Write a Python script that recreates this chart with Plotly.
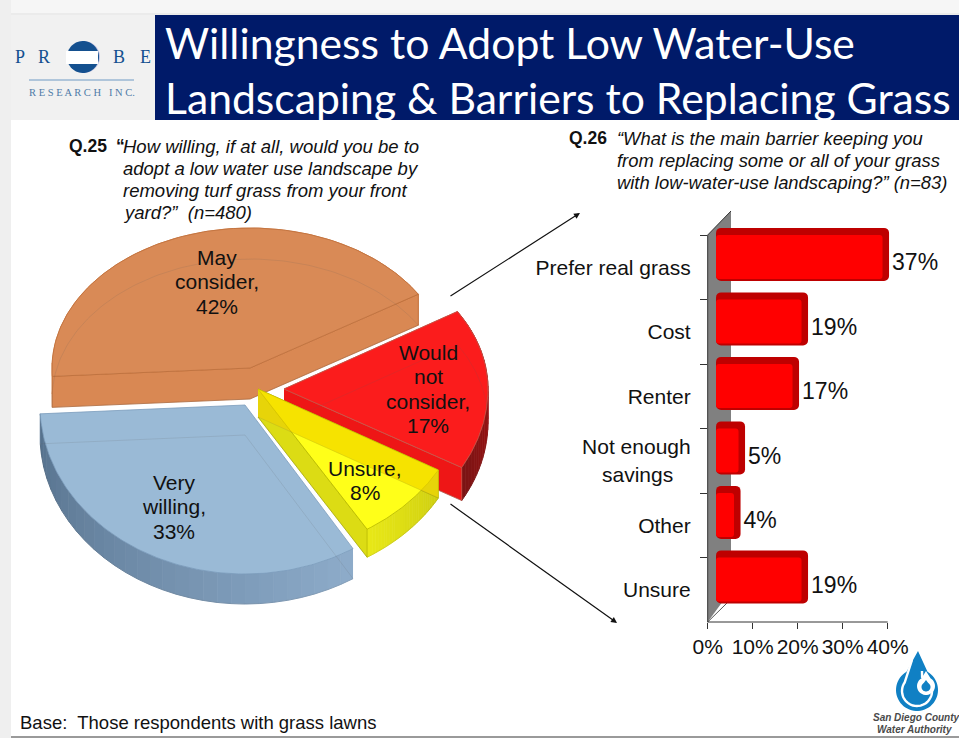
import numpy as np
import plotly.graph_objects as go

# ---- data ----
pie_labels = [["May", "consider,", "42%"], ["Would", "not", "consider,", "17%"],
              ["Unsure,", "8%"], ["Very", "willing,", "33%"]]
pie_shares = [42, 17, 8, 33]
bar_categories = ["Prefer real grass", "Cost", "Renter",
                  "Not enough<br>savings\u00a0\u00a0\u00a0", "Other", "Unsure"]
bar_values = [37, 19, 17, 5, 4, 19]
axis_ticks = [0, 10, 20, 30, 40]
axis_tick_labels = ["0%", "10%", "20%", "30%", "40%"]
title_lines = ["Willingness to Adopt Low Water-Use", "Landscaping & Barriers to Replacing Grass"]
q25_lines = ["How willing, if at all, would you be to", "adopt a low water use landscape by",
             "removing turf grass from your front", "yard?\u201d  (n=480)"]
q26_lines = ["\u201cWhat is the main barrier keeping you", "from replacing some or all of your grass",
             "with low-water-use landscaping?\u201d (n=83)"]

# ---- pie styling / perspective ----
START = 183.0
styles = [
    dict(c=(250, 368), rx=198, up=140, down=160, d=31, top="#D98A56", wall="#D98853", edge="#BE703C", arc=("#D98853", "#D98853")),
    dict(c=(284, 389), rx=204, up=147, down=160, d=33, top="#FB1C1C", wall="#EE1616", edge="#C4584A", arc=("#C01010", "#7A1414")),
    dict(c=(258, 389), rx=207, up=140, down=165, d=28, top="rgba(255,255,0,0.90)", wall="#DCDC14", edge="#B9B900", arc=("#CFCF10", "#E9E918")),
    dict(c=(245, 405), rx=205, up=140, down=169, d=30, top="#9ABAD6", wall="#8FAECD", edge="#7C9DBD", arc=("#8EADCB", "#55708C")),
]
FONT = "Liberation Sans"


def hex_rgb(h):
    return tuple(int(h[i:i + 2], 16) for i in (1, 3, 5))


fig = go.Figure()


def poly(xs, ys, fill, line=None, width=0.8):
    fig.add_trace(go.Scatter(x=list(xs), y=list(ys), mode="lines", fill="toself", fillcolor=fill,
                             line=dict(color=line or "rgba(0,0,0,0)", width=width if line else 0),
                             hoverinfo="skip", showlegend=False, xaxis="x", yaxis="y"))


def arc_points(s, t):
    t = np.radians(t)
    sn = np.sin(t)
    ry = np.where(sn > 0, s["up"], s["down"])
    return s["c"][0] + s["rx"] * np.cos(t), s["c"][1] - ry * sn


spans, a = [], START
for v in pie_shares:
    spans.append((a, a - v / sum(pie_shares) * 360))
    a = spans[-1][1]

for i in (0, 3, 1, 2):
    s, (a0, a1) = styles[i], spans[i]
    cx, cy = s["c"]
    d = s["d"]
    ts = np.linspace(a0, a1, 121)
    ax, ay = arc_points(s, ts)
    # outer wall, split in strips for the shading
    n = 30
    c0, c1 = hex_rgb(s["arc"][0]), hex_rgb(s["arc"][1])
    idx = np.linspace(0, len(ts) - 1, n + 1).astype(int)
    for k in range(n):
        sx, sy = ax[idx[k]:idx[k + 1] + 1], ay[idx[k]:idx[k + 1] + 1]
        f = (k + .5) / n
        col = "rgb(%d,%d,%d)" % tuple(int(c0[j] + (c1[j] - c0[j]) * f) for j in range(3))
        poly(np.r_[sx, sx[::-1]], np.r_[sy, sy[::-1] + d], col, col, 1)
    # cut walls (the blue slice shows none of them)
    if i != 3:
        poly([cx, ax[0], ax[0], cx], [cy, ay[0], ay[0] + d, cy + d], s["wall"], s["edge"])
        poly([cx, ax[-1], ax[-1], cx], [cy, ay[-1], ay[-1] + d, cy + d], s["wall"], s["edge"])
    # top face
    poly(np.r_[cx, ax, cx], np.r_[cy, ay, cy], s["top"], s["edge"])
    if i == 2:   # darker band where the yellow slice lies over the red one
        poly([cx, ax[0], ax[0], cx], [cy, ay[0], ay[0] + d, cy + d], "rgba(240,205,0,0.55)")
    # see-through bottom outline
    fig.add_trace(go.Scatter(x=np.r_[cx, ax, cx], y=np.r_[cy, ay, cy] + d, mode="lines",
                             line=dict(color="rgba(90,90,90,0.14)", width=1),
                             hoverinfo="skip", showlegend=False, xaxis="x", yaxis="y"))

# ---- bars ----
DX = 1.85    # front-face shift caused by the 3-D wall
fig.add_trace(go.Bar(y=bar_categories, x=[v + 1.45 for v in bar_values], base=DX, orientation="h",
                     width=53 / 64.5, offset=-0.61, marker=dict(color="#BE0000", cornerradius=5, line_width=0),
                     cliponaxis=False, hoverinfo="skip", showlegend=False, xaxis="x2", yaxis="y2"))
fig.add_trace(go.Bar(y=bar_categories, x=bar_values, base=DX, orientation="h",
                     width=44 / 64.5, offset=-0.5, marker=dict(color="#FF0000", cornerradius=3, line_width=0),
                     cliponaxis=False, hoverinfo="skip", showlegend=False, xaxis="x2", yaxis="y2"))
fig.add_trace(go.Bar(y=bar_categories, x=[v + 1.45 for v in bar_values], base=DX, orientation="h",
                     width=1, offset=-0.58, marker=dict(color="rgba(0,0,0,0)", line_width=0),
                     text=[f"{v}%" for v in bar_values], textposition="outside",
                     textfont=dict(family=FONT, size=23, color="#111"),
                     cliponaxis=False, hoverinfo="skip", showlegend=False, xaxis="x2", yaxis="y2"))

# ---- shapes ----
shapes = []


def rect(x0, y0, x1, y1, fill):
    shapes.append(dict(type="rect", xref="x", yref="y", x0=x0, y0=y0, x1=x1, y1=y1,
                       fillcolor=fill, line_width=0, layer="below"))


def path(xs, ys, fill, line=None, width=0):
    p = "M" + "L".join(f"{a:.2f},{b:.2f}" for a, b in zip(xs, ys)) + "Z"
    shapes.append(dict(type="path", xref="x", yref="y", path=p, fillcolor=fill, layer="below",
                       line=dict(color=line or "rgba(0,0,0,0)", width=width)))


def seg(x0, y0, x1, y1, color, width=1):
    shapes.append(dict(type="line", xref="x", yref="y", x0=x0, y0=y0, x1=x1, y1=y1,
                       line=dict(color=color, width=width), layer="below"))


rect(0, 0, 959, 15, "#F6F6F6")
rect(0, 0, 11, 738, "#EFEFEF")
rect(11, 13, 959, 15, "#EBEBEB")
rect(11, 15, 155, 120, "#F1F1F1")
rect(155, 15, 959, 120, "#001A69")
seg(11, 737, 959, 737, "#9A9A9A", 2)

# 3-D wall of the bar chart
path([707.7, 731, 731, 707.7], [235, 211, 590, 622], "#808080")
seg(707.7, 235, 731, 211, "#333333", 1)
seg(707.7, 622, 727, 603, "#555555", 1)
seg(707.7, 622, 887.7, 622, "#333333", 1)   # value-axis line stops at 40 %
seg(707.7, 235, 707.7, 622, "#333333", 1)   # category-axis line stops at the top tick

# Probe logo
tt = np.radians(np.linspace(0, 360, 60))
lcx, lcy, lr = 83, 57, 16
path(lcx + 1 + lr * np.cos(tt), lcy + lr * np.sin(tt), "#C9C7E4")
path(lcx + lr * np.cos(tt), lcy + lr * np.sin(tt), "#14508F")
rect(lcx - lr - 1, 51, lcx + lr - 1, 64, "#FFFFFF")
seg(29, 80, 134, 80, "#6E9AC4", 1)

# Water-authority drop
dt = np.radians(np.linspace(-60, 240, 50))
dcx, dcy = 917, 690
path(np.r_[918, dcx + 21 * np.cos(dt)], np.r_[651, dcy + 21 * np.sin(dt)], "#1080C4")
sw = np.radians(np.linspace(-70, 215, 40))
sx, sy = dcx + 15 * np.cos(sw), dcy + 1 + 15 * np.sin(sw)
shapes.append(dict(type="path", xref="x", yref="y", layer="below", fillcolor="rgba(0,0,0,0)",
                   path="M912,660 L" + "L".join(f"{a:.1f},{b:.1f}" for a, b in zip(sx[::-1], sy[::-1])) + "L922,671",
                   line=dict(color="white", width=2.4)))
ct = np.radians(np.linspace(-60, 240, 30))
path(np.r_[926, 926 + 9 * np.cos(ct)], np.r_[671, 686 + 9 * np.sin(ct)], "#FFFFFF")
path(np.r_[926, 926 + 4.5 * np.cos(ct)], np.r_[680, 687 + 4.5 * np.sin(ct)], "#1080C4")

# ---- text ----
ann = []


def txt(x, y, t, size, color="#111", align="center", fam=FONT):
    ann.append(dict(x=x, y=y, xref="x", yref="y", text=t, showarrow=False, xanchor=align, yanchor="middle",
                    font=dict(family=fam, size=size, color=color)))


txt(163, 42, title_lines[0], 42.7, "#FFFFFF", "left", "Lato")
txt(163, 97, title_lines[1], 42.7, "#FFFFFF", "left", "Lato")

txt(67, 146, "<b>Q.25</b>", 17.5, align="left")
txt(114, 146, "<b>\u201c</b>", 17.5, align="left")
for i, l in enumerate(q25_lines):
    txt(121, 146 + i * 22.3, f"<i>{l}</i>", 18.5, align="left")
txt(567, 138, "<b>Q.26</b>", 17.5, align="left")
for i, l in enumerate(q26_lines):
    txt(615, 138 + i * 22.3, f"<i>{l}</i>", 18.4, align="left")

pie_text_pos = [(217, 257), (428, 352), (365, 468), (174, 482)]
for lines, (x, y) in zip(pie_labels, pie_text_pos):
    for j, l in enumerate(lines):
        txt(x, y + j * 24.5, l, 21)

txt(18, 722, "Base:  Those respondents with grass lawns", 18.5, align="left")

for ch, x in (("P", 20), ("R", 44), ("B", 119), ("E", 145)):
    txt(x, 57, ch, 18, "#14508F", "center", "Liberation Serif")
txt(82, 92, "R E S E A R C H   I N C.", 10.5, "#4F7BA8", "center", "Liberation Serif")
txt(916, 717, "<b><i>San Diego County</i></b>", 10, "#4A4A4A")
txt(914, 729, "<b><i>Water Authority</i></b>", 10, "#4A4A4A")

for (x0, y0, x1, y1) in ((449, 297, 580, 213), (449, 503, 617, 623)):
    ann.append(dict(x=x1, y=y1, ax=x0, ay=y0, xref="x", yref="y", axref="x", ayref="y", text="", showarrow=True,
                    arrowhead=2, arrowsize=1, arrowwidth=1.2, arrowcolor="#111"))

H, W = 738, 959
PX_PER_PCT = 4.5
ROW = 64.5
EXTRA = 0.12   # room above the first row for the top of the 3-D bar
fig.update_layout(
    width=W, height=H, margin=dict(l=0, r=0, t=0, b=0), paper_bgcolor="white", plot_bgcolor="rgba(0,0,0,0)",
    barmode="overlay", showlegend=False, shapes=shapes, annotations=ann,
    xaxis=dict(domain=[0, 1], range=[0, W], visible=False, fixedrange=True, automargin=False),
    yaxis=dict(domain=[0, 1], range=[H, 0], visible=False, fixedrange=True, automargin=False),
    xaxis2=dict(domain=[707.7 / W, (707.7 + 55 * PX_PER_PCT) / W], range=[0, 55], anchor="y2", tickmode="array",
                tickvals=axis_ticks, ticktext=axis_tick_labels, ticks="outside", ticklen=6, tickcolor="#333",
                showgrid=False, zeroline=False, showline=False, automargin=False,
                tickfont=dict(family=FONT, size=21, color="#111")),
    yaxis2=dict(domain=[1 - 622 / H, 1 - (235 - EXTRA * ROW) / H], anchor="x2", type="category", categoryorder="array",
                categoryarray=bar_categories, range=[5.5, -0.5 - EXTRA], tickson="boundaries", ticks="outside", ticklen=7,
                tickcolor="#333", showgrid=False, zeroline=False, showline=False,
                automargin=False, ticklabelstandoff=16, tickfont=dict(family=FONT, size=21, color="#111")),
)
fig.write_html("out.html", config=dict(displayModeBar=False),
               post_script="document.body.style.margin='0';document.body.style.overflow='hidden';")
